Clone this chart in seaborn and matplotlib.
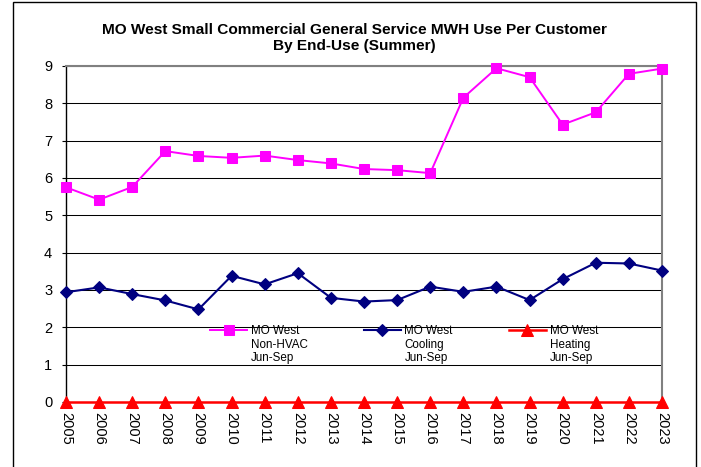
import matplotlib.pyplot as plt
import pandas as pd
import seaborn as sns
from matplotlib.patches import Rectangle

years = [2005, 2006, 2007, 2008, 2009, 2010, 2011, 2012, 2013, 2014,
         2015, 2016, 2017, 2018, 2019, 2020, 2021, 2022, 2023]
non_hvac = [5.75, 5.42, 5.76, 6.72, 6.59, 6.54, 6.60, 6.48, 6.39, 6.24,
            6.21, 6.13, 8.15, 8.94, 8.70, 7.43, 7.76, 8.79, 8.93]
cooling = [2.94, 3.07, 2.89, 2.72, 2.48, 3.38, 3.15, 3.45, 2.79, 2.69,
           2.73, 3.09, 2.95, 3.09, 2.73, 3.29, 3.73, 3.71, 3.52]
heating = [0, 0, 0, 0, 0, 0, 0, 0, 0, 0, 0, 0, 0, 0, 0, 0, 0, 0, 0]

series_labels = ["MO West\nNon-HVAC\nJun-Sep", "MO West\nCooling\nJun-Sep", "MO West\nHeating\nJun-Sep"]
title = "MO West Small Commercial General Service MWH Use Per Customer\nBy End-Use (Summer)"

plt.rcParams["font.family"] = ["Liberation Sans", "DejaVu Sans"]

df = pd.DataFrame({"year": years, "non_hvac": non_hvac, "cooling": cooling, "heating": heating})

fig = plt.figure(figsize=(7.01, 4.67), dpi=100)
fig.patches.append(Rectangle((0.0185, -0.01), 0.974, 1.0057, transform=fig.transFigure,
                             fill=False, edgecolor="black", linewidth=1.0))
ax = fig.add_axes([0.0942, 0.1392, 0.8502, 0.7195])

styles = [
    ("non_hvac", "#FF00FF", "s", 7.5, 1.4),
    ("cooling", "#000080", "D", 6.5, 1.5),
    ("heating", "#FF0000", "^", 8.0, 1.8),
]
for (col, color, marker, ms, lw), label in zip(styles, series_labels):
    sns.lineplot(data=df, x="year", y=col, ax=ax, color=color, marker=marker,
                 markersize=ms, markeredgecolor=color, linewidth=lw,
                 label=label, clip_on=False, zorder=3)

ax.set_xlim(2005, 2023)
ax.set_ylim(0, 9)
ax.set_xticks(years)
ax.set_xticklabels([str(y) for y in years], rotation=-90, fontsize=10.5)
ax.set_yticks(range(0, 10))
ax.tick_params(axis="y", labelsize=10.5, length=3, pad=7, color="black")
ax.tick_params(axis="x", length=0, pad=7)
ax.set_xlabel("")
ax.set_ylabel("")

ax.grid(axis="y", color="black", linewidth=0.75)
ax.grid(axis="x", visible=False)
ax.set_axisbelow(True)
ax.spines["left"].set_color("black")
ax.spines["left"].set_linewidth(1.0)
ax.spines["top"].set_color("#808080")
ax.spines["top"].set_linewidth(1.5)
ax.spines["right"].set_color("#808080")
ax.spines["right"].set_linewidth(1.5)
ax.spines["bottom"].set_visible(False)

leg = ax.legend(loc="upper left", bbox_to_anchor=(204 / 701, 1 - 319 / 467),
                bbox_transform=fig.transFigure, ncol=3, frameon=False,
                fontsize=8.4, borderpad=0, handlelength=3.2, handletextpad=0.3,
                columnspacing=4.8, handleheight=1.2)
for column in leg._legend_handle_box.get_children():
    for entry in column.get_children():
        entry.align = "top"

fig.text(0.506, 1 - 38 / 467, title, ha="center", va="center",
         fontsize=11.1, fontweight="bold", linespacing=1.15)

fig.savefig("out.png", dpi=100)
plt.close(fig)
